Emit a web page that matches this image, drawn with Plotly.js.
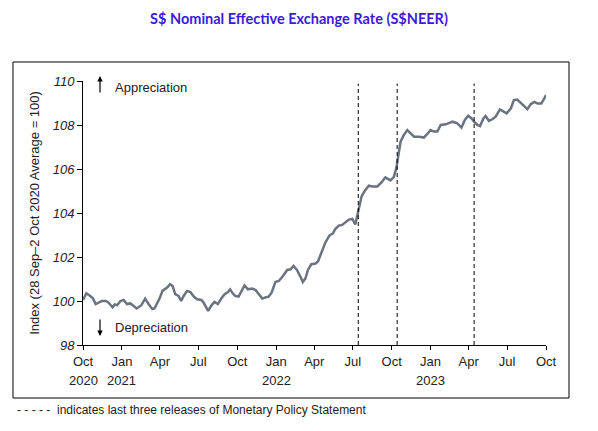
<!DOCTYPE html>
<html>
<head>
<meta charset="utf-8">
<script src="https://cdn.plot.ly/plotly-3.0.1.min.js"></script>
<style>html,body{margin:0;padding:0;background:#fff;}#chart{width:598px;height:431px;}</style>
</head>
<body>
<div id="chart"></div>
<script>
// Weekly S$NEER readings (index, 28 Sep–2 Oct 2020 average = 100)
const dates = [
"2020-10-01","2020-10-09","2020-10-18","2020-10-24","2020-10-31","2020-11-08","2020-11-15","2020-11-24","2020-11-30","2020-12-10",
"2020-12-15","2020-12-21","2020-12-28","2021-01-05","2021-01-13","2021-01-21","2021-01-31","2021-02-05","2021-02-16","2021-02-25",
"2021-03-05","2021-03-14","2021-03-19","2021-03-31","2021-04-07","2021-04-18","2021-04-25","2021-05-01","2021-05-07","2021-05-15",
"2021-05-21","2021-05-27","2021-06-04","2021-06-12","2021-06-20","2021-06-28","2021-07-08","2021-07-13","2021-07-24","2021-07-31",
"2021-08-08","2021-08-16","2021-08-24","2021-09-01","2021-09-09","2021-09-14","2021-09-20","2021-09-26","2021-10-04","2021-10-12",
"2021-10-18","2021-10-26","2021-11-05","2021-11-13","2021-11-20","2021-11-29","2021-12-06","2021-12-14","2021-12-21","2021-12-30",
"2022-01-07","2022-01-16","2022-01-27","2022-02-04","2022-02-11","2022-02-19","2022-02-27","2022-03-05","2022-03-11","2022-03-17",
"2022-03-25","2022-04-04","2022-04-10","2022-04-18","2022-04-27","2022-05-07","2022-05-15","2022-05-21","2022-05-29","2022-06-06",
"2022-06-14","2022-06-22","2022-06-30","2022-07-07","2022-07-14","2022-07-22","2022-07-30","2022-08-08","2022-08-16","2022-08-28",
"2022-09-07","2022-09-16","2022-09-28","2022-10-06","2022-10-12","2022-10-17","2022-10-22","2022-10-30","2022-11-07","2022-11-15",
"2022-11-23","2022-12-05","2022-12-16","2022-12-24","2023-01-01","2023-01-09","2023-01-17","2023-01-25","2023-02-06","2023-02-22",
"2023-03-05","2023-03-15","2023-03-23","2023-03-31","2023-04-08","2023-04-14","2023-04-22","2023-04-28","2023-05-06","2023-05-11",
"2023-05-19","2023-05-27","2023-06-04","2023-06-14","2023-06-22","2023-06-30","2023-07-10","2023-07-17","2023-07-25","2023-08-02",
"2023-08-10","2023-08-18","2023-08-26","2023-09-03","2023-09-11","2023-09-20","2023-09-27","2023-10-01"
];
const sneer = [
100.05,100.35,100.23,100.13,99.86,99.93,100.0,100.0,99.93,99.71,
99.84,99.81,99.99,100.05,99.86,99.89,99.75,99.66,99.81,100.11,
99.86,99.63,99.66,100.11,100.46,100.61,100.76,100.68,100.31,100.23,
100.0,100.23,100.46,100.41,100.2,100.08,100.05,99.93,99.55,99.78,
99.96,99.86,100.11,100.31,100.41,100.53,100.35,100.23,100.2,100.49,
100.71,100.53,100.57,100.5,100.31,100.11,100.16,100.2,100.38,100.86,
100.91,101.11,101.41,101.44,101.59,101.41,101.11,100.86,101.02,101.41,
101.67,101.7,101.81,102.19,102.65,102.98,103.07,103.28,103.43,103.46,
103.58,103.7,103.73,103.48,104.08,104.76,105.03,105.24,105.21,105.21,
105.39,105.62,105.48,105.63,106.04,106.72,107.24,107.55,107.77,107.62,
107.47,107.47,107.43,107.58,107.77,107.7,107.7,108.0,108.03,108.15,
108.08,107.88,108.23,108.42,108.3,108.15,108.0,107.95,108.3,108.41,
108.19,108.26,108.38,108.71,108.6,108.53,108.76,109.13,109.16,109.01,
108.83,108.72,108.95,109.05,108.98,108.98,109.21,109.36
];
// Monetary Policy Statement release dates (dashed lines)
const mpsDates = ["2022-07-14","2022-10-14","2023-04-14"];
// x-axis ticks
const tickDates = ["2020-10-01","2021-01-01","2021-04-01","2021-07-01","2021-10-01","2022-01-01","2022-04-01","2022-07-01","2022-10-01","2023-01-01","2023-04-01","2023-07-01","2023-10-01"];
const tickMonths = ["Oct","Jan","Apr","Jul","Oct","Jan","Apr","Jul","Oct","Jan","Apr","Jul","Oct"];
const yearDates = ["2020-10-01","2021-01-01","2022-01-01","2023-01-01"];
const yearLabels = ["2020","2021","2022","2023"];

const FONT = "Liberation Sans, Arial, sans-serif";

const shapes = mpsDates.map(d => ({
  type:"line", xref:"x", yref:"paper", x0:d, x1:d, y0:0, y1:0.99,
  line:{color:"#000", width:1, dash:"4px,3px"}
}));
// outer frame
shapes.push({type:"rect", xref:"paper", yref:"paper", x0:-0.1512, x1:1.0497, y0:-0.2008, y1:1.072,
  line:{color:"#000", width:1}, fillcolor:"rgba(0,0,0,0)"});

const annotations = yearDates.map((d,i) => ({
  x:d, xref:"x", y:-0.136, yref:"paper", text:yearLabels[i], showarrow:false,
  xanchor:"center", yanchor:"middle", font:{family:FONT, size:13, color:"#222"}
}));
annotations.push(
  {x:0.0367, y:1.019, xref:"paper", yref:"paper", ax:0, ay:18, text:"", showarrow:true,
   arrowhead:2, arrowsize:0.9, arrowwidth:1.2, arrowcolor:"#000"},
  {x:0.0648, y:0.977, xref:"paper", yref:"paper", text:"Appreciation", showarrow:false,
   xanchor:"left", yanchor:"middle", font:{family:FONT, size:13, color:"#222"}},
  {x:0.0367, y:0.034, xref:"paper", yref:"paper", ax:0, ay:-18, text:"", showarrow:true,
   arrowhead:2, arrowsize:0.9, arrowwidth:1.2, arrowcolor:"#000"},
  {x:0.0648, y:0.068, xref:"paper", yref:"paper", text:"Depreciation", showarrow:false,
   xanchor:"left", yanchor:"middle", font:{family:FONT, size:13, color:"#222"}},
  {x:-0.1469, y:-0.246, xref:"paper", yref:"paper", text:"- - - - -  indicates last three releases of Monetary Policy Statement",
   showarrow:false, xanchor:"left", yanchor:"middle", font:{family:FONT, size:12, color:"#222"}}
);

const trace = {
  x: dates, y: sneer, type:"scatter", mode:"lines",
  line:{color:"#6b7282", width:2.5}, hoverinfo:"x+y"
};

const layout = {
  width:598, height:431,
  margin:{l:83, r:52, t:81, b:86},
  paper_bgcolor:"#fff", plot_bgcolor:"#fff",
  showlegend:false,
  title:{text:"S$ Nominal Effective Exchange Rate (S$NEER)", x:0.5, xanchor:"center",
    y:0.956, yanchor:"middle", yref:"container",
    font:{family:"Lato, Noto Sans, sans-serif", size:14.5, weight:700, color:"#3a1cd8"}},
  xaxis:{type:"date", range:["2020-10-01","2023-10-01"], tickvals:tickDates, ticktext:tickMonths,
    ticks:"outside", ticklen:4, tickcolor:"#000", showline:true, linecolor:"#000", linewidth:1,
    showgrid:false, zeroline:false, tickfont:{family:FONT, size:13, color:"#222"}},
  yaxis:{range:[98,110], dtick:2, tick0:98, ticks:"outside", ticklen:5, tickcolor:"#000",
    showline:true, linecolor:"#000", linewidth:1, showgrid:false, zeroline:false,
    tickfont:{family:FONT, size:13, color:"#222", style:"italic"},
    title:{text:"Index (28 Sep\u20132 Oct 2020 Average = 100)", font:{family:FONT, size:13, color:"#222"}, standoff:10}},
  shapes: shapes,
  annotations: annotations
};

Plotly.newPlot("chart", [trace], layout, {displayModeBar:false, staticPlot:true});
</script>
</body>
</html>
